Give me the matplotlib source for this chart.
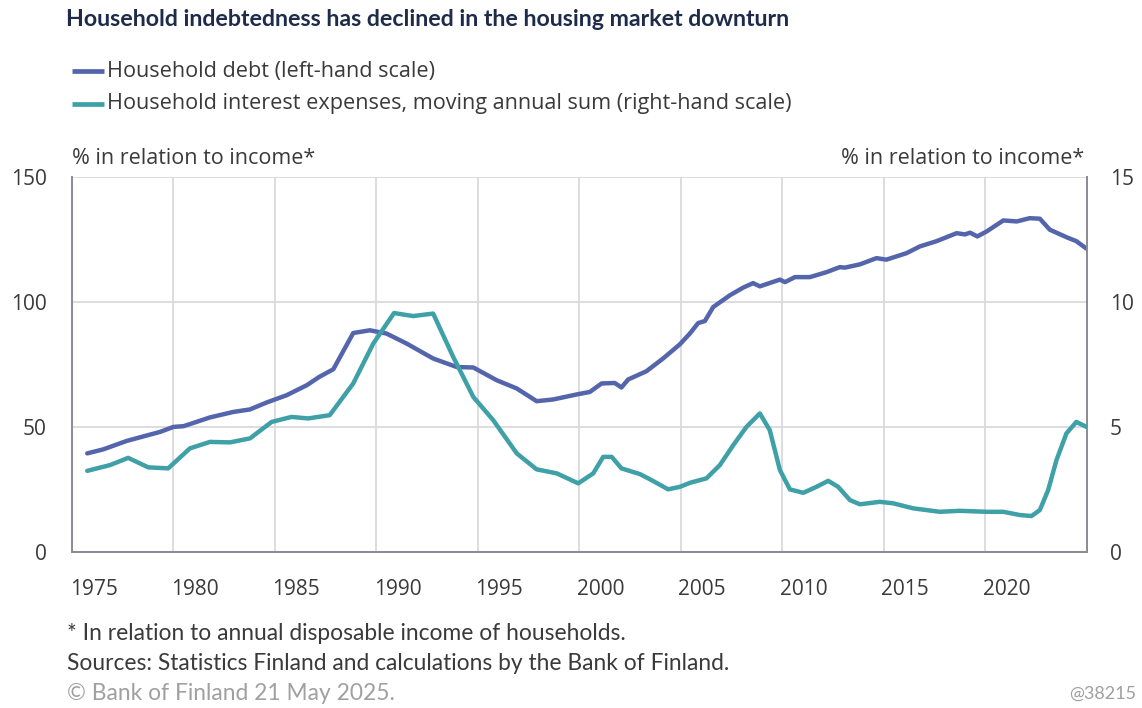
import matplotlib
matplotlib.use("Agg")
import matplotlib.pyplot as plt
from matplotlib.lines import Line2D
from matplotlib.transforms import ScaledTranslation

# ---- data ----
debt_years = [1975.75, 1976.54, 1977.7, 1979.34, 1980.0, 1980.5, 1981.8, 1982.95, 1983.77,
              1984.6, 1985.58, 1986.57, 1987.2, 1987.88, 1988.86, 1989.68, 1990.5, 1991.49,
              1992.8, 1993.96, 1994.78, 1995.93, 1996.92, 1997.9, 1998.72, 1999.87, 2000.52,
              2001.1, 2001.75, 2002.08, 2002.41, 2003.31, 2004.13, 2004.96, 2005.45, 2005.86,
              2006.19, 2006.6, 2007.42, 2008.08, 2008.57, 2008.9, 2009.89, 2010.14, 2010.63,
              2011.37, 2012.19, 2012.84, 2013.09, 2013.83, 2014.65, 2015.14, 2016.13, 2016.79,
              2017.61, 2018.6, 2019.01, 2019.26, 2019.62, 2020.08, 2020.9, 2021.56, 2022.2,
              2022.7, 2023.19, 2024.01, 2024.5, 2025.0]
debt_values = [39.3, 40.9, 44.3, 47.9, 49.9, 50.2, 53.7, 55.9, 56.9,
               59.7, 62.6, 66.6, 70.0, 73.0, 87.5, 88.6, 87.3, 83.3,
               77.3, 73.9, 73.7, 68.6, 65.3, 60.2, 60.9, 62.9, 63.9,
               67.3, 67.5, 65.7, 68.9, 72.2, 77.3, 83.0, 87.3, 91.5,
               92.3, 97.9, 102.6, 105.7, 107.5, 106.2, 108.9, 107.9, 109.9,
               109.9, 111.9, 113.9, 113.7, 115.0, 117.5, 116.9, 119.5, 122.2,
               124.3, 127.5, 127.0, 127.7, 126.2, 128.2, 132.6, 132.2, 133.5,
               133.3, 128.9, 125.9, 124.3, 121.3]

int_years = [1975.75, 1976.87, 1977.77, 1978.76, 1979.74, 1980.81, 1981.8, 1982.78, 1983.77,
             1984.84, 1985.82, 1986.64, 1987.7, 1988.86, 1989.85, 1990.87, 1991.82, 1992.8,
             1993.79, 1994.78, 1995.76, 1996.92, 1997.9, 1998.89, 1999.95, 2000.69, 2001.18,
             2001.6, 2002.08, 2002.99, 2003.56, 2004.38, 2004.96, 2005.45, 2006.27, 2006.93,
             2007.59, 2008.24, 2008.9, 2009.39, 2009.89, 2010.38, 2011.04, 2011.69, 2012.27,
             2012.76, 2013.34, 2013.83, 2014.81, 2015.47, 2016.45, 2017.77, 2018.75, 2020.08,
             2020.9, 2021.72, 2022.29, 2022.7, 2023.11, 2023.52, 2024.01, 2024.5, 2025.0]
int_values = [3.23, 3.46, 3.75, 3.37, 3.33, 4.13, 4.39, 4.37, 4.53,
              5.19, 5.39, 5.33, 5.46, 6.73, 8.33, 9.55, 9.43, 9.53,
              7.79, 6.19, 5.26, 3.93, 3.29, 3.13, 2.73, 3.13, 3.79,
              3.79, 3.33, 3.10, 2.86, 2.49, 2.59, 2.75, 2.93, 3.46,
              4.26, 4.99, 5.53, 4.86, 3.26, 2.49, 2.35, 2.59, 2.83,
              2.59, 2.06, 1.89, 1.99, 1.93, 1.73, 1.59, 1.63, 1.59,
              1.59, 1.46, 1.42, 1.66, 2.46, 3.66, 4.73, 5.19, 4.99]

x_ticks = [1975, 1980, 1985, 1990, 1995, 2000, 2005, 2010, 2015, 2020]
left_ticks = [0, 50, 100, 150]
right_ticks = [0, 5, 10, 15]

title = "Household indebtedness has declined in the housing market downturn"
label_debt = "Household debt (left-hand scale)"
label_int = "Household interest expenses, moving annual sum (right-hand scale)"

# ---- styling ----
DEBT_C = "#5465AC"
INT_C = "#3FA0A8"
GRID_C = "#D9D9DE"
SPINE_C = "#8C8C96"
TEXT_C = "#3A3A3A"
TITLE_C = "#1E2B4A"
W, H = 1142, 708

fig = plt.figure(figsize=(W / 100, H / 100), dpi=100)
fig.patch.set_facecolor("white")

ax = fig.add_axes([72 / W, (H - 551.5) / H, (1086.5 - 72) / W, (551.5 - 177) / H])
ax2 = ax.twinx()

ax.plot(debt_years, debt_values, color=DEBT_C, lw=3.2, solid_capstyle="round", zorder=3)
ax2.plot(int_years, int_values, color=INT_C, lw=3.2, solid_capstyle="round", zorder=3)

ax.set_xlim(1975, 2025)
ax.set_ylim(0, 150)
ax2.set_ylim(0, 15)
ax.set_yticks(left_ticks)
ax2.set_yticks(right_ticks)
ax.set_xticks(x_ticks)
ax.set_xticklabels([str(y) for y in x_ticks])

ax.grid(True, color=GRID_C, lw=1.3, zorder=0)
ax.set_axisbelow(True)
ax2.grid(False)

for a in (ax, ax2):
    a.spines["top"].set_visible(False)
    for s in ("left", "right", "bottom"):
        a.spines[s].set_color(SPINE_C)
        a.spines[s].set_linewidth(1.3)

TICK_FS = 15
ax.tick_params(axis="both", length=0, colors=TEXT_C)
ax.tick_params(axis="y", pad=18.2)
ax.tick_params(axis="x", pad=19.5)
ax2.tick_params(axis="y", length=0, pad=17, colors=TEXT_C)
for lab in ax.get_yticklabels() + ax2.get_yticklabels():
    lab.set_fontfamily("Open Sans")
    lab.set_fontsize(TICK_FS)
offset = ScaledTranslation(21.5 / 100, 0, fig.dpi_scale_trans)
for lab in ax.get_xticklabels():
    lab.set_fontfamily("Open Sans")
    lab.set_fontsize(TICK_FS)
    lab.set_transform(lab.get_transform() + offset)

# axis unit labels
fig.text(72 / W, 1 - 158 / H, "% in relation to income*", ha="left", va="center",
         family="Open Sans", fontsize=15.5, color=TEXT_C)
fig.text(1084 / W, 1 - 158 / H, "% in relation to income*", ha="right", va="center",
         family="Open Sans", fontsize=15.5, color=TEXT_C)

# title
fig.text(66 / W, 1 - 20 / H, title, ha="left", va="center", family="Lato",
         fontweight="bold", fontsize=16.7, color=TITLE_C)

# legend (manual)
for yy, col, txt in ((71, DEBT_C, label_debt), (104, INT_C, label_int)):
    fig.add_artist(Line2D([72 / W, 104 / W], [1 - yy / H, 1 - yy / H], color=col, lw=3.4,
                          transform=fig.transFigure, solid_capstyle="butt"))
    fig.text(107 / W, 1 - yy / H, txt, ha="left", va="center", family="Open Sans",
             fontsize=15.6, color=TEXT_C)

# footnotes
FOOT_FS = 16.4
fig.text(67 / W, 1 - 633 / H, "* In relation to annual disposable income of households.",
         ha="left", va="center", family="Lato", fontsize=FOOT_FS, color=TEXT_C)
fig.text(67 / W, 1 - 663 / H, "Sources: Statistics Finland and calculations by the Bank of Finland.",
         ha="left", va="center", family="Lato", fontsize=FOOT_FS, color=TEXT_C)
fig.text(67 / W, 1 - 693 / H, "© Bank of Finland 21 May 2025.",
         ha="left", va="center", family="Lato", fontsize=FOOT_FS, color="#A0A0A0")
fig.text(1136 / W, 1 - 694 / H, "@38215", ha="right", va="center", family="Lato",
         fontsize=13, color="#A0A0A0")

fig.savefig("out.png", dpi=100, facecolor="white")
